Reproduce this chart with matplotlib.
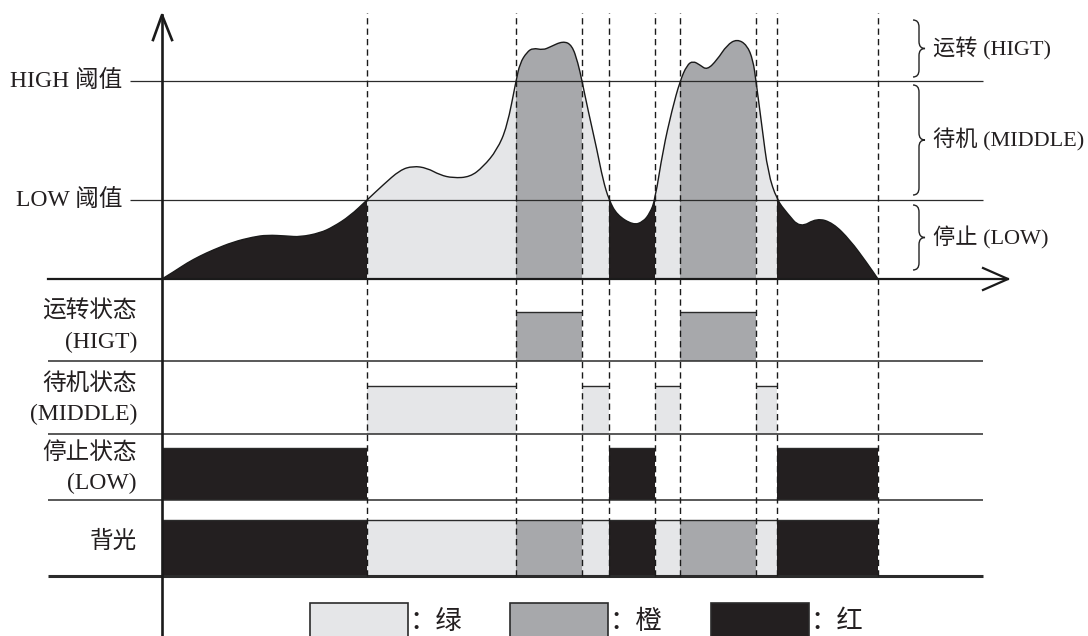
import numpy as np
import matplotlib.pyplot as plt
from matplotlib.path import Path
from matplotlib.patches import PathPatch, Rectangle

plt.rcParams['font.family'] = ['Liberation Serif', 'Noto Sans CJK SC']

# signal level over time (t = time, v = level, 0 = baseline)
t = np.array([0, 13, 25, 38, 51, 71, 91, 105, 125, 138, 158, 171, 188, 205,
              221, 238, 251, 265, 278, 291, 308, 321, 335, 345, 354, 358, 365,
              371, 381, 388, 401, 410, 416, 420, 426, 435, 441, 447, 455, 471,
              481, 488, 493, 501, 510, 518, 525, 531, 538, 545, 555, 565, 575,
              585, 591, 594, 600, 606, 615, 625, 638, 655, 671, 688, 705, 716])
v = np.array([0, 8, 16, 23, 29, 37, 42, 44, 43, 42, 46, 52, 63, 79,
              94, 109, 113, 111, 104, 101, 102, 112, 129, 152, 198, 216, 227,
              231, 229, 232, 238, 234, 216, 198, 169, 129, 99, 79, 64, 54,
              57, 66, 79, 129, 169, 198, 214, 218, 214, 209, 219, 234, 240,
              234, 219, 198, 152, 106, 79, 66, 51, 61, 56, 39, 16, 0])

LOW_TH = 79
HIGH_TH = 198

# state changes
edges = [0, 205, 354, 420, 447, 493, 518, 594, 615, 716]
states = ['LOW', 'MIDDLE', 'HIGH', 'MIDDLE', 'LOW', 'MIDDLE', 'HIGH', 'MIDDLE', 'LOW']

colors = {'LOW': '#231f20', 'MIDDLE': '#e5e6e8', 'HIGH': '#a7a8ab'}
legend_names = {'MIDDLE': '绿', 'HIGH': '橙', 'LOW': '红'}

# rows below the axis: (label, state shown, bottom, top, label y)
rows = [('运转状态\n(HIGT)', 'HIGH', -82, -33, -48),
        ('待机状态\n(MIDDLE)', 'MIDDLE', -155, -107, -120),
        ('停止状态\n(LOW)', 'LOW', -221, -169, -189),
        ('背光', None, -297, -241, -263)]
row_lines = [-82, -155, -221]

zones = [('运转 (HIGT)', 259, 202), ('待机 (MIDDLE)', 194, 84), ('停止 (LOW)', 74, 9)]

fig = plt.figure(figsize=(10.88, 6.36), dpi=100)
ax = fig.add_axes([0, 0, 1, 1])
ax.set_xlim(-162, 926)
ax.set_ylim(-357, 279)
ax.axis('off')

edge_col = '#2b2b2b'
txt_col = '#231f20'

# smooth outline through the sampled points (quadratic pieces)
pts = np.column_stack([t, v]).astype(float)
verts = [pts[0]]
codes = [Path.MOVETO]
for i in range(1, len(pts) - 1):
    verts += [pts[i], (pts[i] + pts[i + 1]) / 2]
    codes += [Path.CURVE3, Path.CURVE3]
verts.append(pts[-1])
codes.append(Path.LINETO)
curve = Path(verts, codes)
area = Path(verts + [(t[-1], 0), (t[0], 0), (t[0], 0)],
            codes + [Path.LINETO, Path.LINETO, Path.CLOSEPOLY])
clip = PathPatch(area, transform=ax.transData, fc='none', lw=0)
ax.add_patch(clip)

# coloured area under the curve
bars = ax.bar(edges[:-1], 260, width=np.diff(edges), bottom=0, align='edge',
              color=[colors[s] for s in states], lw=0, zorder=1)
for b in bars:
    b.set_clip_path(clip)
ax.add_patch(PathPatch(curve, fill=False, color='#1a1a1a', lw=1.0, zorder=3))

# thresholds
ax.hlines([HIGH_TH, LOW_TH], -32, 821, color=edge_col, lw=0.9, zorder=2)
ax.text(-40, HIGH_TH, 'HIGH 阈值', ha='right', va='center', fontsize=17, color=txt_col)
ax.text(-40, LOW_TH, 'LOW 阈值', ha='right', va='center', fontsize=17, color=txt_col)

# state rows
for label, st, bot, top, ly in rows:
    for a, b, s in zip(edges[:-1], edges[1:], states):
        if st is None or s == st:
            ax.bar(a, top - bot, width=b - a, bottom=bot, align='edge',
                   color=colors[s], lw=0, zorder=1)
            ax.hlines(top, a, b, color=edge_col, lw=1.0, zorder=2)
    ax.text(-25, ly, label, ha='right', va='center', multialignment='right',
            fontsize=17, color=txt_col, linespacing=1.55)
ax.hlines(row_lines, -114, 821, color=edge_col, lw=1.1, zorder=2)
ax.hlines(-297, -114, 821, color=edge_col, lw=2.2, zorder=2)

# dashed markers at every state change
ax.vlines(edges[1:], -297, 266, color='#1a1a1a', lw=1.0,
          linestyles=(0, (4.5, 3)), zorder=4)

# axes with open arrow heads
ax.plot([0, 0], [-357, 264], color='#1a1a1a', lw=1.9, zorder=5)
ax.plot([-9, 0, 10], [239, 264, 239], color='#1a1a1a', lw=1.9, zorder=5)
ax.plot([-114, 846], [0, 0], color='#1a1a1a', lw=1.6, zorder=5)
ax.plot([821, 846, 821], [11, 0, -11], color='#1a1a1a', lw=1.6, zorder=5)

# braces on the right
xb, xt = 751, 763
xm = (xb + xt) / 2
d = 7
for label, ytop, ybot in zones:
    ym = (ytop + ybot) / 2
    bverts = [(xb, ytop), (xm, ytop), (xm, ytop - d), (xm, ym + d),
              (xm, ym), (xt, ym), (xm, ym), (xm, ym - d), (xm, ybot + d),
              (xm, ybot), (xb, ybot)]
    bcodes = [Path.MOVETO, Path.CURVE3, Path.CURVE3, Path.LINETO,
              Path.CURVE3, Path.CURVE3, Path.CURVE3, Path.CURVE3, Path.LINETO,
              Path.CURVE3, Path.CURVE3]
    ax.add_patch(PathPatch(Path(bverts, bcodes), fill=False, color='#222', lw=1.0))
    ax.text(771, ym, label, ha='left', va='center', fontsize=16, color=txt_col)

# legend
leg_x = [148, 348, 549]
for x0, s in zip(leg_x, ['MIDDLE', 'HIGH', 'LOW']):
    ax.add_patch(Rectangle((x0, -365), 98, 41, facecolor=colors[s],
                           edgecolor=edge_col, lw=1.2))
    ax.text(x0 + 99, -343, '：' + legend_names[s], ha='left', va='center',
            fontsize=19, color=txt_col)

fig.savefig('out.png', dpi=100)
